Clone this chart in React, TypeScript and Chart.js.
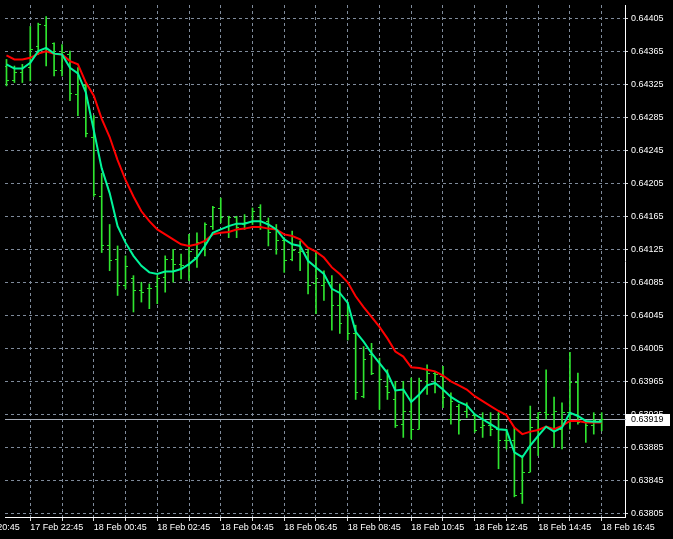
import React, { useEffect, useRef } from "react";
import { Chart, registerables } from "chart.js";

Chart.register(...registerables);

// ---- data (M15 bars, 17 Feb 22:00 .. 18 Feb 16:45) ----
const opens = [
  0.64347, 0.6433, 0.64339, 0.64345, 0.64371, 0.64396, 0.64374, 0.64342, 0.64361, 0.64313,
  0.64323, 0.64261, 0.64189, 0.64129, 0.64113, 0.64081, 0.6409, 0.64075, 0.64077, 0.6408,
  0.64091, 0.64113, 0.64107, 0.64105, 0.64115, 0.64125, 0.64153, 0.64174, 0.64153, 0.64163,
  0.64155, 0.64159, 0.64175, 0.64159, 0.64149, 0.64135, 0.64113, 0.64121, 0.64121, 0.64083,
  0.64081, 0.64085, 0.64057, 0.64045, 0.64023, 0.63947, 0.63997, 0.63989, 0.63959, 0.63943,
  0.63913, 0.63929, 0.63907, 0.63965, 0.63975, 0.63971, 0.63919, 0.63935, 0.63929, 0.63923,
  0.63909, 0.63911, 0.63907, 0.63893, 0.63893, 0.63829, 0.63855, 0.63921, 0.63927, 0.63925,
  0.63907, 0.63927, 0.63963, 0.63915, 0.63911, 0.63917,
];
const highs = [
  0.64355, 0.64347, 0.64349, 0.64395, 0.64399, 0.64407, 0.64375, 0.64373, 0.64365, 0.64345,
  0.64325, 0.64287, 0.64217, 0.64155, 0.64129, 0.64117, 0.64093, 0.64085, 0.64083, 0.64093,
  0.64117, 0.64125, 0.64119, 0.64143, 0.64145, 0.64157, 0.64177, 0.64187, 0.64165, 0.64165,
  0.64167, 0.64175, 0.64179, 0.64163, 0.64155, 0.64139, 0.64147, 0.64135, 0.64125, 0.64123,
  0.64099, 0.64093, 0.64083, 0.64061, 0.64033, 0.64007, 0.64011, 0.63993, 0.63979, 0.63965,
  0.63965, 0.63969, 0.63969, 0.63985, 0.63977, 0.63983, 0.63951, 0.63937, 0.63939, 0.63925,
  0.63927, 0.63927, 0.63927, 0.63907, 0.63909, 0.63875, 0.63935, 0.63927, 0.63979, 0.63946,
  0.63939, 0.64, 0.63975, 0.63917, 0.63927, 0.63927,
];
const lows = [
  0.64323, 0.64327, 0.64327, 0.64329, 0.64361, 0.64347, 0.64335, 0.64335, 0.64305, 0.64287,
  0.64261, 0.64189, 0.64121, 0.64099, 0.64069, 0.64077, 0.64049, 0.64061, 0.64053, 0.64059,
  0.64073, 0.64085, 0.64089, 0.64087, 0.64103, 0.64117, 0.64149, 0.64157, 0.64139, 0.64139,
  0.64149, 0.64155, 0.64149, 0.64129, 0.64119, 0.64097, 0.64111, 0.64099, 0.64071, 0.64047,
  0.64063, 0.64027, 0.64023, 0.64015, 0.63943, 0.63945, 0.63973, 0.63931, 0.63943, 0.63909,
  0.63897, 0.63895, 0.63907, 0.63949, 0.63951, 0.63933, 0.63913, 0.63901, 0.63921, 0.63903,
  0.63897, 0.63899, 0.63859, 0.63883, 0.63825, 0.63817, 0.63855, 0.63875, 0.63919, 0.63885,
  0.63883, 0.63907, 0.63913, 0.63891, 0.63901, 0.63905,
];
const closes = [
  0.64329, 0.64339, 0.64345, 0.64367, 0.64397, 0.64367, 0.64342, 0.64363, 0.64314, 0.64325,
  0.64265, 0.64191, 0.64129, 0.64111, 0.64081, 0.64104, 0.64075, 0.64073, 0.64078, 0.64089,
  0.64113, 0.64107, 0.64105, 0.64122, 0.64133, 0.64155, 0.64175, 0.64163, 0.64164, 0.64151,
  0.64158, 0.64171, 0.64159, 0.64145, 0.64135, 0.64111, 0.64123, 0.64122, 0.64081, 0.64089,
  0.64085, 0.64057, 0.64035, 0.64023, 0.63952, 0.63991, 0.63975, 0.63967, 0.63951, 0.63911,
  0.63929, 0.63907, 0.63966, 0.63975, 0.63973, 0.63945, 0.63941, 0.63917, 0.63935, 0.63905,
  0.63911, 0.63907, 0.63893, 0.63893, 0.63827, 0.63855, 0.63909, 0.63927, 0.63925, 0.63929,
  0.63927, 0.63963, 0.63915, 0.63911, 0.63917, 0.63919,
];
const maFast = [
  0.64349, 0.64344, 0.64344, 0.64351, 0.64365, 0.64369, 0.64362, 0.64361, 0.64345, 0.64338,
  0.64315, 0.64269, 0.64223, 0.64193, 0.64153, 0.64133, 0.64117, 0.64105, 0.64097, 0.64095,
  0.64098, 0.64098, 0.64101, 0.64107, 0.64115, 0.64129, 0.64145, 0.64149, 0.64153, 0.64156,
  0.64156, 0.64159, 0.64159, 0.64155, 0.64149, 0.64137, 0.64131, 0.64129, 0.64111, 0.64103,
  0.64095, 0.64077, 0.64072, 0.6406, 0.64025, 0.64013, 0.63999, 0.63987, 0.63975, 0.63954,
  0.63955, 0.6394, 0.63949, 0.6396, 0.63963, 0.63955, 0.63946, 0.6394, 0.63936, 0.63925,
  0.63919, 0.63913, 0.63907, 0.63906, 0.63879, 0.63873, 0.63887, 0.63899, 0.6391, 0.63904,
  0.63909, 0.63927, 0.63923, 0.63917, 0.63916, 0.63916,
];
const maSlow = [
  0.6436, 0.64355, 0.64355, 0.64357, 0.64362, 0.64365, 0.64362, 0.64361, 0.64353, 0.64349,
  0.64327, 0.64311, 0.64283, 0.64261, 0.64233, 0.64209, 0.64189, 0.64171, 0.64159, 0.64149,
  0.64143, 0.64137, 0.64131, 0.64129, 0.64131, 0.64135, 0.64143, 0.64145, 0.64146, 0.64149,
  0.6415, 0.64152, 0.64152, 0.6415, 0.64149, 0.64143, 0.64141, 0.64137, 0.64127, 0.64122,
  0.64115, 0.64103, 0.64095, 0.64085, 0.64068, 0.64055, 0.64043, 0.64031, 0.64017, 0.64001,
  0.63995, 0.63982, 0.63981, 0.63979, 0.63977, 0.63972, 0.63965, 0.6396, 0.63955, 0.63947,
  0.63941, 0.63935, 0.63929, 0.63924, 0.63909, 0.63901, 0.63904, 0.63906, 0.6391, 0.63907,
  0.63911, 0.63917, 0.63917, 0.63915, 0.63915, 0.63915,
];
// time-axis labels, one every 2 hours (8 bars); first one is partly off-screen
const timeLabels = [
  "17 Feb 20:45", "17 Feb 22:45", "18 Feb 00:45", "18 Feb 02:45", "18 Feb 04:45",
  "18 Feb 06:45", "18 Feb 08:45", "18 Feb 10:45", "18 Feb 12:45", "18 Feb 14:45",
  "18 Feb 16:45",
];
const priceTicks = [
  0.64405, 0.64365, 0.64325, 0.64285, 0.64245, 0.64205, 0.64165, 0.64125,
  0.64085, 0.64045, 0.64005, 0.63965, 0.63925, 0.63885, 0.63845, 0.63805,
];
const FIRST_LABEL_BAR = -5; // bar index of "17 Feb 20:45"
const BARS_PER_LABEL = 8;
const BARS_PER_GRID = 4;

const BAR_COLOR = "#2fe42f";
const FAST_COLOR = "#00f59a";
const SLOW_COLOR = "#ff0000";
const GRID_COLOR = "#7f8b9b";
const FONT = { family: "'Liberation Sans', Arial, sans-serif", size: 9 };

export default function App() {
  const ref = useRef<HTMLCanvasElement>(null);

  useEffect(() => {
    const canvas = ref.current;
    if (!canvas) return;

    const mkTick = (left: boolean) => {
      const c = document.createElement("canvas");
      c.width = 5;
      c.height = 1;
      const g = c.getContext("2d")!;
      g.fillStyle = BAR_COLOR;
      g.fillRect(left ? 0 : 3, 0, 2, 1);
      return c;
    };
    const openImg = mkTick(true);
    const closeImg = mkTick(false);

    const idx = closes.map((_, i) => i);
    const lastClose = closes[closes.length - 1];

    const gridBars: number[] = [];
    for (let v = FIRST_LABEL_BAR; v < closes.length; v += BARS_PER_GRID) gridBars.push(v);

    const pricePlugin = {
      id: "priceLine",
      beforeDraw(chart: any) {
        const { ctx } = chart;
        ctx.save();
        ctx.fillStyle = "#000";
        ctx.fillRect(0, 0, chart.width, chart.height);
        ctx.restore();
      },
      beforeDatasetsDraw(chart: any) {
        const { ctx, chartArea, scales } = chart;
        const y = Math.round(scales.y.getPixelForValue(lastClose)) + 0.5;
        ctx.save();
        ctx.strokeStyle = "#a7afbb";
        ctx.lineWidth = 1;
        ctx.beginPath();
        ctx.moveTo(chartArea.left, y);
        ctx.lineTo(chartArea.right + 1, y);
        ctx.stroke();
        ctx.restore();
        ctx.imageSmoothingEnabled = false;
      },
      afterDraw(chart: any) {
        const { ctx, chartArea, scales } = chart;
        const yc = Math.round(scales.y.getPixelForValue(lastClose));
        ctx.save();
        ctx.fillStyle = "#ffffff";
        ctx.fillRect(chartArea.right + 1, yc - 5, 44, 12);
        ctx.fillStyle = "#000000";
        ctx.font = `${FONT.size}px ${FONT.family}`;
        ctx.textBaseline = "middle";
        ctx.textAlign = "left";
        ctx.fillText(lastClose.toFixed(5), chartArea.right + 6, yc + 1);
        ctx.restore();
      },
    };

    const chart = new Chart(canvas, {
      type: "line",
      data: {
        datasets: [
          {
            type: "line",
            data: idx.map((i) => ({ x: i, y: maFast[i] })),
            borderColor: FAST_COLOR,
            borderWidth: 2,
            pointRadius: 0,
            tension: 0,
          },
          {
            type: "line",
            data: idx.map((i) => ({ x: i, y: maSlow[i] })),
            borderColor: SLOW_COLOR,
            borderWidth: 2,
            pointRadius: 0,
            tension: 0,
          },
          {
            type: "line",
            data: idx.map((i) => ({ x: i, y: opens[i] })),
            showLine: false,
            pointStyle: openImg as any,
            pointRadius: 1,
          },
          {
            type: "line",
            data: idx.map((i) => ({ x: i, y: closes[i] })),
            showLine: false,
            pointStyle: closeImg as any,
            pointRadius: 1,
          },
          {
            type: "bar",
            data: idx.map((i) => ({ x: i, y: [lows[i], highs[i]] })) as any,
            backgroundColor: BAR_COLOR,
            borderWidth: 0,
            barThickness: 1,
            maxBarThickness: 1,
          },
        ] as any,
      },
      options: {
        animation: false,
        responsive: false,
        events: [],
        layout: { padding: 0 },
        plugins: { legend: { display: false }, tooltip: { enabled: false } },
        scales: {
          x: {
            type: "linear",
            position: "bottom",
            min: -0.1875,
            max: 77.9375,
            offset: false,
            grid: {
              color: GRID_COLOR,
              lineWidth: 1,
              offset: false,
              drawTicks: true,
              tickLength: 4,
              tickColor: "#d8d8d8",
              tickBorderDash: [],
            },
            border: { display: true, color: "#ffffff", width: 1, dash: [3, 3] },
            ticks: {
              color: "#ffffff",
              font: FONT,
              align: "start",
              padding: 1,
              autoSkip: false,
              maxRotation: 0,
              minRotation: 0,
              callback: (v: any) => {
                const k = Number(v) - FIRST_LABEL_BAR;
                return k % BARS_PER_LABEL === 0 ? timeLabels[k / BARS_PER_LABEL] ?? "" : "";
              },
            },
            afterBuildTicks: (s: any) => {
              s.ticks = gridBars.map((v) => ({ value: v }));
            },
            afterFit: (s: any) => {
              s.height = 22;
              s.paddingLeft = 0;
              s.paddingRight = 0;
            },
          },
          y: {
            type: "linear",
            position: "right",
            min: 0.6380056,
            max: 0.6442096,
            grid: {
              color: GRID_COLOR,
              lineWidth: 1,
              drawTicks: true,
              tickLength: 3,
              tickColor: "#d8d8d8",
              tickBorderDash: [],
            },
            border: { display: true, color: "#ffffff", width: 1, dash: [3, 3] },
            ticks: {
              color: "#ffffff",
              font: FONT,
              padding: 3,
              autoSkip: false,
              callback: (v: any) => Number(v).toFixed(5),
            },
            afterBuildTicks: (s: any) => {
              s.ticks = priceTicks.map((v) => ({ value: v }));
            },
            afterFit: (s: any) => {
              s.width = 48;
              s.paddingTop = 0;
              s.paddingBottom = 0;
            },
          },
        },
      } as any,
      plugins: [pricePlugin],
    });

    return () => chart.destroy();
  }, []);

  return (
    <div style={{ position: "fixed", left: 0, top: 0, width: 673, height: 539, background: "#000" }}>
      <canvas ref={ref} width={673} height={539} style={{ display: "block" }} />
    </div>
  );
}
